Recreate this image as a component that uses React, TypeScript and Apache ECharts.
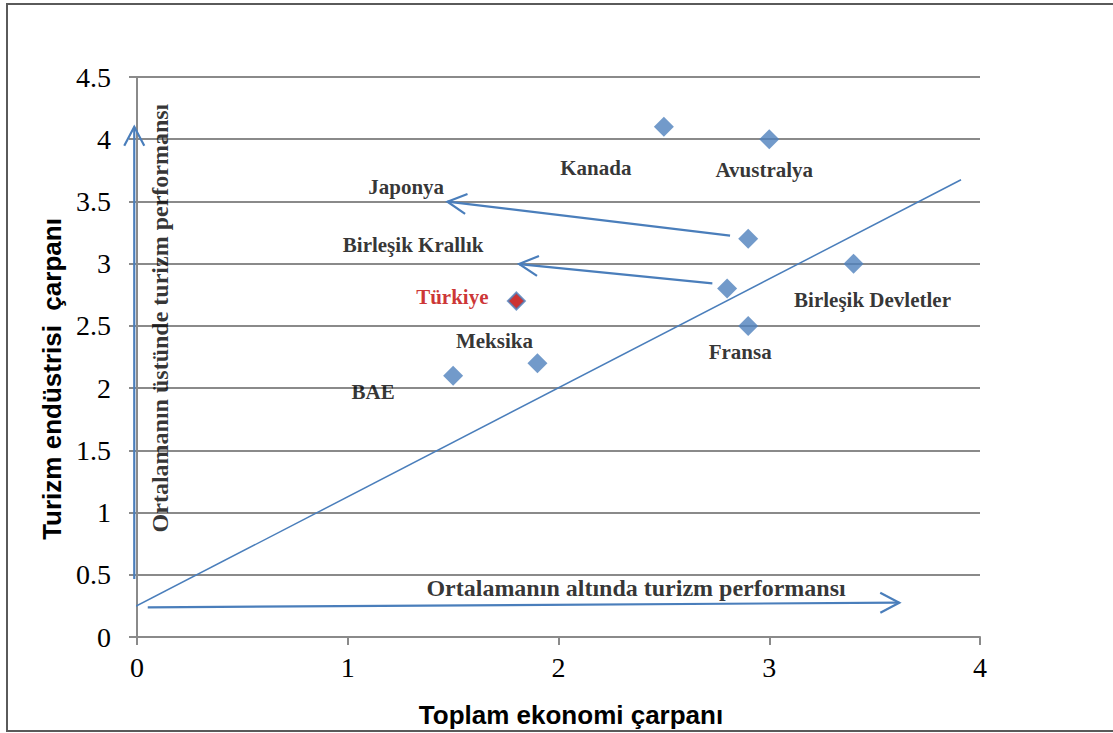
import React, { useEffect, useRef } from "react";
import * as echarts from "echarts";

// ---- Data ----
const countries = [
  "Kanada",
  "Avustralya",
  "Japonya",
  "Birleşik Krallık",
  "Birleşik Devletler",
  "Fransa",
  "Türkiye",
  "Meksika",
  "BAE",
];
const totalMultiplier = [2.5, 3.0, 2.9, 2.8, 3.4, 2.9, 1.8, 1.9, 1.5];
const tourismMultiplier = [4.1, 4.0, 3.2, 2.8, 3.0, 2.5, 2.7, 2.2, 2.1];

// diagonal line end points (data coords)
const diagonalX = [-0.2325, 3.91];
const diagonalY = [0.048, 3.674];

// arrows: [x1, y1, x2, y2] in data coords (tip at x2,y2)
const arrowJaponya = [2.814, 3.225, 1.473, 3.498];
const arrowKrallik = [2.73, 2.842, 1.813, 2.997];
const arrowUp = [-0.013, 0.466, -0.013, 4.1];
const arrowRight = [0.051, 0.238, 3.617, 0.276];

const annotationTexts = [
  "Ortalamanın altında turizm performansı",
  "Ortalamanın üstünde turizm performansı",
];
const annotationX = [2.368, 0.109];
const annotationY = [0.394, 2.563];

const xTicks = [0, 1, 2, 3, 4];
const yTicks = [0, 0.5, 1, 1.5, 2, 2.5, 3, 3.5, 4, 4.5];

const xTitle = "Toplam ekonomi çarpanı";
const yTitle = "Turizm endüstrisi  çarpanı";

// label offsets (pixels, style only)
const labelOffsets: Record<string, [number, number]> = {
  Kanada: [-68, 41],
  Avustralya: [-5, 31],
  Japonya: [-342, -52],
  "Birleşik Krallık": [-314, -44],
  "Birleşik Devletler": [19, 36],
  Fransa: [-8, 26],
  Türkiye: [-64, -4],
  Meksika: [-43, -22],
  BAE: [-80, 16],
};

const BLUE = "#4F81BD";
const LINE_BLUE = "#4A7EBB";
const RED = "#C00000";
const GRID = "#8a8a8a";
const SERIF = "Liberation Serif";
const SANS = "Liberation Sans";

export default function App() {
  const ref = useRef<HTMLDivElement>(null);

  useEffect(() => {
    if (!ref.current) return;
    const chart = echarts.init(ref.current, undefined, { renderer: "svg" });

    const points = countries.map((name, i) => {
      const isTr = name === "Türkiye";
      return {
        name,
        value: [totalMultiplier[i], tourismMultiplier[i]],
        symbolSize: isTr ? 17 : 20,
        itemStyle: isTr
          ? { color: RED, borderColor: BLUE, borderWidth: 2 }
          : { color: BLUE },
        label: {
          show: true,
          position: "inside",
          offset: labelOffsets[name],
          formatter: name,
          color: isTr ? RED : "#000",
          fontFamily: SERIF,
          fontWeight: "bold",
          fontSize: 21,
        },
      };
    });

    const arrows = [arrowJaponya, arrowKrallik, arrowUp, arrowRight];

    const annotations = annotationTexts.map((t, i) => ({
      name: t,
      value: [annotationX[i], annotationY[i]],
      label: {
        show: true,
        position: "inside",
        formatter: t,
        rotate: i === 1 ? 90 : 0,
        color: "#000",
        fontFamily: SERIF,
        fontWeight: "bold",
        fontSize: 24,
      },
    }));

    const option: any = {
      animation: false,
      backgroundColor: "#fff",
      textStyle: { fontFamily: SERIF },
      grid: { left: 137, top: 77, width: 843, height: 560, containLabel: false },
      xAxis: {
        type: "value",
        min: xTicks[0],
        max: xTicks[xTicks.length - 1],
        interval: 1,
        axisLine: { show: true, onZero: false, lineStyle: { color: GRID, width: 2 } },
        axisTick: { show: true, length: 8, lineStyle: { color: GRID, width: 2 } },
        splitLine: { show: false },
        axisLabel: {
          color: "#000",
          fontFamily: SERIF,
          fontSize: 28,
          margin: 16,
          formatter: (v: number) => String(v),
        },
      },
      yAxis: {
        type: "value",
        min: yTicks[0],
        max: yTicks[yTicks.length - 1],
        interval: 0.5,
        axisLine: { show: true, onZero: false, lineStyle: { color: GRID, width: 2 } },
        axisTick: { show: true, length: 8, lineStyle: { color: GRID, width: 2 } },
        splitLine: { show: true, lineStyle: { color: GRID, width: 2 } },
        axisLabel: {
          color: "#000",
          fontFamily: SERIF,
          fontSize: 28,
          margin: 26,
          formatter: (v: number) => String(v),
        },
      },
      graphic: [
        {
          type: "rect",
          shape: { x: 7, y: 4, width: 1120, height: 727 },
          style: { fill: "none", stroke: "#5a5a5a", lineWidth: 2 },
          silent: true,
          z: 0,
        },
        {
          type: "text",
          x: 571,
          y: 715,
          style: {
            text: xTitle,
            align: "center",
            verticalAlign: "middle",
            fontFamily: SANS,
            fontWeight: "bold",
            fontSize: 26,
            fill: "#000",
          },
        },
        {
          type: "text",
          x: 52,
          y: 379,
          rotation: Math.PI / 2,
          style: {
            text: yTitle,
            align: "center",
            verticalAlign: "middle",
            fontFamily: SANS,
            fontWeight: "bold",
            fontSize: 26,
            fill: "#000",
          },
        },
      ],
      series: [
        {
          type: "line",
          data: diagonalX.map((x, i) => [x, diagonalY[i]]),
          symbol: "none",
          clip: false,
          silent: true,
          lineStyle: { color: LINE_BLUE, width: 1.5 },
          z: 2,
        },
        {
          type: "custom",
          data: arrows,
          clip: false,
          silent: true,
          encode: { x: [0, 2], y: [1, 3] },
          renderItem: (params: any, api: any) => {
            const p1 = api.coord([api.value(0), api.value(1)]);
            const p2 = api.coord([api.value(2), api.value(3)]);
            const ang = Math.atan2(p2[1] - p1[1], p2[0] - p1[0]);
            const L = 19;
            const W = 10;
            const bx = p2[0] - L * Math.cos(ang);
            const by = p2[1] - L * Math.sin(ang);
            const nx = -Math.sin(ang);
            const ny = Math.cos(ang);
            const style = { stroke: LINE_BLUE, lineWidth: 2.2, fill: "none" };
            return {
              type: "group",
              children: [
                {
                  type: "line",
                  shape: { x1: p1[0], y1: p1[1], x2: p2[0], y2: p2[1] },
                  style,
                },
                {
                  type: "polyline",
                  shape: {
                    points: [
                      [bx + nx * W, by + ny * W],
                      [p2[0], p2[1]],
                      [bx - nx * W, by - ny * W],
                    ],
                  },
                  style,
                },
              ],
            };
          },
          z: 3,
        },
        {
          type: "scatter",
          symbol: "diamond",
          data: points,
          z: 5,
        },
        {
          type: "scatter",
          symbolSize: 0,
          data: annotations,
          silent: true,
          z: 6,
        },
      ],
    };

    chart.setOption(option);
    return () => chart.dispose();
  }, []);

  return (
    <div
      ref={ref}
      style={{
        position: "fixed",
        left: 0,
        top: 0,
        width: 1113,
        height: 733,
        background: "#fff",
      }}
    />
  );
}
